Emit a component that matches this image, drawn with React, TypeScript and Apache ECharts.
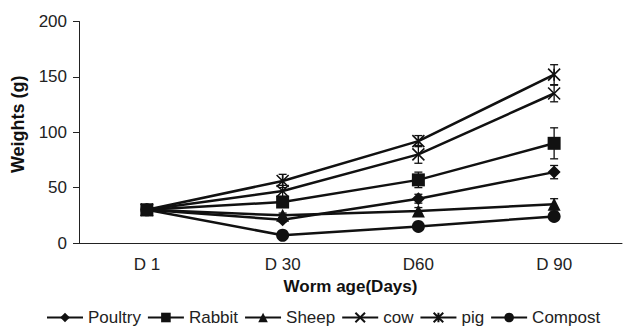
import React, { useEffect, useRef } from "react";
import * as echarts from "echarts";

const categories = ["D 1", "D 30", "D60", "D 90"];
const yTicks = { min: 0, max: 200, interval: 50 };

const poultry = [30, 21, 40, 64];
const poultryErr = [0, 2, 4, 6];
const rabbit = [30, 37, 57, 90];
const rabbitErr = [0, 3, 7, 14];
const sheep = [30, 25, 29, 35];
const sheepErr = [0, 2, 3, 5];
const cow = [30, 47, 80, 135];
const cowErr = [0, 5, 8, 7.5];
const pig = [30, 56, 92, 152];
const pigErr = [0, 6, 5, 9];
const compost = [30, 7, 15, 24];
const compostErr = [0, 1, 2, 3];

const seriesNames = ["Poultry", "Rabbit", "Sheep", "cow", "pig", "Compost"];
const seriesValues = [poultry, rabbit, sheep, cow, pig, compost];
const seriesErrs = [poultryErr, rabbitErr, sheepErr, cowErr, pigErr, compostErr];

const INK = "#111111";
const FONT = "Liberation Sans, Arial, sans-serif";
const X_PATH = "path://M0,0L10,10M10,0L0,10";
const STAR_PATH = "path://M0,0L10,10M10,0L0,10M5,0L5,10";

const symbols = [
  { symbol: "diamond", size: 13, border: 0 },
  { symbol: "rect", size: 13, border: 0 },
  { symbol: "triangle", size: 13, border: 0 },
  { symbol: X_PATH, size: 12, border: 1.6 },
  { symbol: STAR_PATH, size: 12, border: 1.6 },
  { symbol: "circle", size: 13, border: 0 },
];

export default function App() {
  const ref = useRef<HTMLDivElement>(null);
  useEffect(() => {
    if (!ref.current) return;
    const chart = echarts.init(ref.current, null, { renderer: "svg" });

    const lineSeries = seriesNames.map((name, i) => ({
      name,
      type: "line",
      data: seriesValues[i],
      symbol: symbols[i].symbol,
      symbolSize: symbols[i].size,
      lineStyle: { color: INK, width: 2.5 },
      itemStyle: {
        color: INK,
        borderColor: INK,
        borderWidth: symbols[i].border,
      },
      z: 3,
    }));

    const errSeries = seriesNames.map((name, i) => ({
      name: name + "_err",
      type: "custom",
      data: seriesValues[i].map((v, j) => [j, v - seriesErrs[i][j], v + seriesErrs[i][j]]),
      renderItem: (params: any, api: any) => {
        const x = api.value(0);
        const lo = api.coord([x, api.value(1)]);
        const hi = api.coord([x, api.value(2)]);
        if (Math.abs(hi[1] - lo[1]) < 1) return { type: "group", children: [] };
        const cap = 4;
        const style = { stroke: INK, lineWidth: 1.3 };
        return {
          type: "group",
          children: [
            { type: "line", shape: { x1: lo[0], y1: lo[1], x2: hi[0], y2: hi[1] }, style },
            { type: "line", shape: { x1: hi[0] - cap, y1: hi[1], x2: hi[0] + cap, y2: hi[1] }, style },
            { type: "line", shape: { x1: lo[0] - cap, y1: lo[1], x2: lo[0] + cap, y2: lo[1] }, style },
          ],
        };
      },
      z: 2,
      silent: true,
    }));

    chart.setOption({
      animation: false,
      backgroundColor: "#ffffff",
      textStyle: { fontFamily: FONT },
      grid: { left: 79, right: 13, top: 21.5, bottom: 87, containLabel: false },
      legend: {
        data: seriesNames,
        left: 41,
        top: 304,
        itemWidth: 36,
        itemHeight: 12,
        itemGap: 6,
        textStyle: { fontSize: 17, color: "#222", fontFamily: FONT },
      },
      xAxis: {
        type: "category",
        data: categories,
        boundaryGap: true,
        name: "Worm age(Days)",
        nameLocation: "middle",
        nameGap: 35,
        nameTextStyle: { fontSize: 17, fontWeight: "bold", color: "#111", fontFamily: FONT },
        axisLine: { lineStyle: { color: "#222", width: 1 } },
        axisTick: { length: 5, lineStyle: { color: "#222" } },
        axisLabel: { fontSize: 17, color: "#222", margin: 13, fontFamily: FONT },
        splitLine: { show: false },
      },
      yAxis: {
        type: "value",
        min: yTicks.min,
        max: yTicks.max,
        interval: yTicks.interval,
        name: "Weights (g)",
        nameLocation: "middle",
        nameGap: 52,
        nameTextStyle: {
          fontSize: 18,
          fontWeight: "bold",
          color: "#111",
          fontFamily: FONT,
          padding: [0, 0, 0, 16],
        },
        axisLine: { show: true, lineStyle: { color: "#222", width: 1 } },
        axisTick: { show: true, length: 6, lineStyle: { color: "#222" } },
        axisLabel: { fontSize: 17, color: "#222", margin: 12, fontFamily: FONT },
        splitLine: { show: false },
      },
      series: [...errSeries, ...lineSeries],
    });
    return () => chart.dispose();
  }, []);
  return <div ref={ref} style={{ width: 635, height: 330, position: "absolute", left: 0, top: 0 }} />;
}
